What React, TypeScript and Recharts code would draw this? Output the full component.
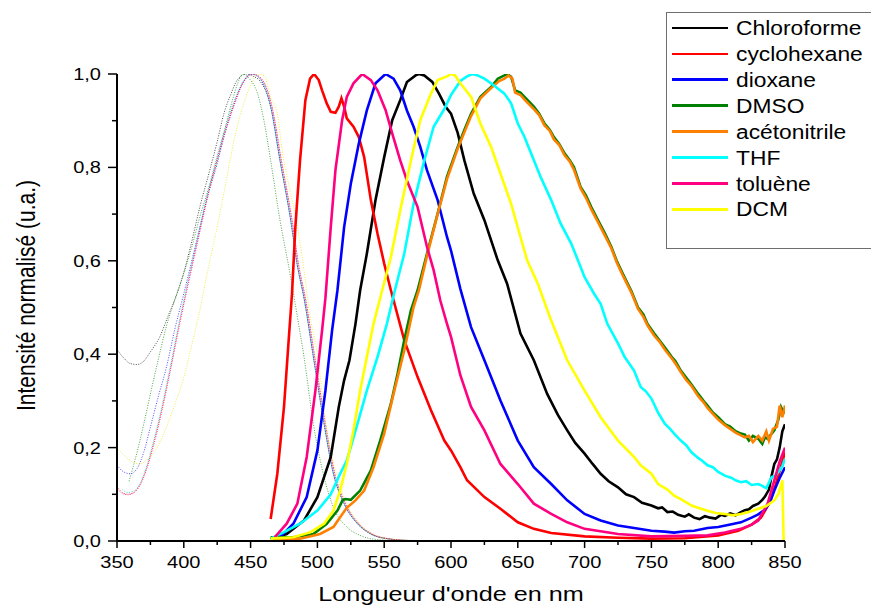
import React from 'react';
import { LineChart, Line, XAxis, YAxis, Label } from 'recharts';

type Pt = [number, number];

const SOLVENTS = ['Chloroforme', 'cyclohexane', 'dioxane', 'DMSO', 'acétonitrile', 'THF', 'toluène', 'DCM'];
const COLORS = ['#000000', '#ff0000', '#0000ff', '#008000', '#ff8000', '#00ffff', '#ff0080', '#ffff00'];

const X_TICKS = [350, 375, 400, 425, 450, 475, 500, 525, 550, 575, 600, 625, 650, 675, 700, 725, 750, 775, 800, 825, 850];
const Y_TICKS = [0, 0.1, 0.2, 0.3, 0.4, 0.5, 0.6, 0.7, 0.8, 0.9, 1.0];

// Absorption spectra (dotted)
const absChloroforme: Pt[] = [[350,0.41],[355,0.392],[360,0.38],[365,0.378],[370,0.385],[375,0.405],[382,0.437],[388,0.48],[395,0.53],[400,0.575],[405,0.63],[412,0.715],[420,0.8],[425,0.855],[430,0.915],[435,0.955],[440,0.987],[447,1.0],[452,0.995],[457,0.985],[465,0.93],[472,0.815],[480,0.687],[485,0.59],[490,0.52],[497,0.394],[505,0.251],[512,0.144],[520,0.08],[530,0.037],[540,0.015],[552,0.005],[570,0.001],[600,0]];
const absDMSO: Pt[] = [[359,0.128],[365,0.19],[370,0.25],[375,0.315],[381,0.39],[387,0.46],[393,0.515],[400,0.573],[406,0.63],[412,0.694],[418,0.75],[425,0.815],[431,0.885],[437,0.95],[441,0.985],[444,1.0],[449,0.99],[455,0.96],[460,0.9],[465,0.815],[472,0.687],[480,0.565],[485,0.48],[490,0.394],[497,0.251],[505,0.137],[512,0.072],[522,0.03],[532,0.012],[545,0.003],[570,0]];
const absDioxane: Pt[] = [[350,0.162],[355,0.148],[360,0.144],[365,0.155],[370,0.19],[375,0.244],[381,0.31],[387,0.372],[393,0.45],[400,0.53],[406,0.6],[412,0.672],[418,0.74],[425,0.808],[431,0.875],[437,0.93],[443,0.975],[451,1.0],[457,0.99],[465,0.93],[472,0.815],[480,0.687],[485,0.59],[490,0.52],[497,0.394],[505,0.251],[512,0.144],[520,0.08],[530,0.037],[540,0.015],[552,0.005],[570,0.001],[600,0]];
const absCyclohexane: Pt[] = [[350,0.117],[354,0.104],[358,0.1],[362,0.103],[367,0.12],[372,0.155],[377,0.205],[383,0.275],[390,0.37],[397,0.47],[403,0.55],[410,0.64],[417,0.73],[424,0.81],[431,0.88],[438,0.94],[444,0.98],[452,1.0],[458,0.99],[466,0.93],[473,0.815],[481,0.687],[486,0.59],[491,0.52],[498,0.394],[506,0.251],[513,0.144],[521,0.08],[531,0.037],[541,0.015],[553,0.005],[570,0.001],[600,0]];
const absTHF: Pt[] = [[354,0.11],[358,0.104],[362,0.106],[367,0.122],[372,0.158],[377,0.21],[383,0.28],[390,0.375],[397,0.475],[403,0.555],[410,0.645],[417,0.735],[424,0.815],[431,0.885],[438,0.945],[444,0.982],[450,1.0],[457,0.99],[465,0.93],[472,0.815],[480,0.687],[485,0.59],[490,0.52],[497,0.394],[505,0.251],[512,0.144],[520,0.08],[530,0.037],[540,0.015],[552,0.005],[570,0.001],[600,0]];
const absToluene: Pt[] = [[350,0.112],[354,0.102],[358,0.099],[362,0.102],[367,0.118],[372,0.152],[377,0.2],[383,0.27],[390,0.365],[397,0.465],[403,0.545],[410,0.635],[417,0.725],[424,0.805],[431,0.875],[438,0.935],[444,0.978],[451,1.0],[458,0.99],[466,0.93],[473,0.815],[481,0.687],[486,0.59],[491,0.52],[498,0.394],[506,0.251],[513,0.144],[521,0.08],[531,0.037],[541,0.015],[553,0.005],[570,0.001],[600,0]];
const absDCM: Pt[] = [[350,0.2],[355,0.185],[360,0.172],[367,0.165],[373,0.175],[380,0.2],[387,0.244],[393,0.29],[400,0.35],[406,0.42],[412,0.494],[418,0.58],[425,0.672],[431,0.76],[437,0.85],[444,0.93],[450,0.975],[455,1.0],[460,0.997],[465,0.95],[470,0.915],[474,0.83],[480,0.744],[484,0.69],[490,0.58],[494,0.49],[500,0.4],[507,0.237],[515,0.137],[522,0.08],[532,0.035],[542,0.014],[555,0.004],[575,0.001],[600,0]];

// Emission spectra (solid)
const emChloroforme: Pt[] = [[465,0.005],[477,0.015],[490,0.044],[500,0.094],[510,0.18],[516,0.287],[520,0.344],[524,0.387],[528.5,0.465],[532,0.537],[537,0.615],[543.5,0.73],[550,0.822],[556,0.901],[562,0.944],[567,0.983],[573.5,0.997],[576,1.0],[580,0.997],[586,0.983],[591,0.958],[596,0.93],[600,0.915],[605,0.874],[610,0.815],[617,0.744],[625,0.687],[635,0.601],[642,0.551],[652,0.444],[662,0.387],[672,0.315],[680,0.27],[687,0.237],[693,0.21],[700,0.187],[706,0.165],[712,0.144],[718,0.128],[725,0.115],[731,0.1],[737,0.094],[743,0.082],[750,0.076],[755,0.07],[758,0.072],[762,0.062],[766,0.063],[770,0.056],[775,0.052],[778,0.057],[782,0.05],[786,0.047],[790,0.053],[794,0.05],[798,0.048],[802,0.056],[805,0.054],[809,0.059],[813,0.055],[817,0.062],[820,0.066],[823,0.068],[826,0.075],[830,0.08],[833,0.088],[835,0.095],[838,0.11],[840,0.14],[842,0.165],[844,0.175],[846,0.2],[848,0.235],[850,0.25]];
const emCyclohexane: Pt[] = [[465,0.047],[470,0.144],[475,0.287],[478.5,0.43],[481,0.53],[483.5,0.672],[487,0.815],[491,0.944],[494.5,0.99],[497.5,1.0],[501,0.987],[503.5,0.965],[507,0.937],[510,0.919],[513.5,0.917],[516,0.93],[518,0.948],[520,0.93],[522,0.905],[527,0.887],[531,0.865],[535,0.822],[540,0.73],[545,0.658],[550,0.594],[555,0.537],[565,0.43],[575,0.351],[585,0.28],[595,0.215],[600,0.194],[607,0.158],[612,0.13],[625,0.094],[637,0.069],[650,0.04],[662,0.026],[675,0.017],[700,0.01],[725,0.007],[750,0.005],[775,0.006],[800,0.012],[815,0.022],[825,0.035],[832,0.05],[838,0.08],[843,0.12],[847,0.16],[850,0.19]];
const emDioxane: Pt[] = [[467,0.0],[472,0.008],[482,0.037],[492,0.094],[500,0.194],[506,0.322],[511,0.451],[515,0.537],[520,0.672],[525,0.765],[531,0.851],[537,0.922],[543.5,0.98],[551,1.0],[557,0.99],[562,0.965],[567,0.922],[572,0.887],[577,0.844],[582,0.794],[590,0.73],[597,0.651],[600,0.622],[607,0.54],[615,0.458],[625,0.387],[637,0.301],[650,0.215],[662,0.158],[675,0.122],[687,0.087],[700,0.058],[712,0.044],[725,0.033],[737,0.028],[750,0.022],[760,0.02],[767,0.018],[775,0.021],[782,0.022],[792,0.028],[800,0.03],[810,0.036],[817,0.04],[825,0.05],[830,0.057],[835,0.067],[839,0.085],[842,0.108],[846,0.135],[850,0.158]];
const emDMSO: Pt[] = [[465,0.008],[482,0.008],[497,0.015],[507,0.037],[515,0.065],[519,0.088],[521,0.09],[525,0.088],[532,0.108],[540,0.151],[547,0.215],[555,0.294],[560,0.358],[565,0.43],[570,0.494],[575,0.537],[582,0.615],[590,0.701],[597,0.78],[605,0.844],[610,0.88],[615,0.915],[622,0.951],[630,0.972],[635,0.99],[640,0.997],[642,1.0],[645,0.994],[648,0.965],[652,0.96],[655,0.951],[662,0.93],[666,0.915],[670,0.894],[674,0.88],[677,0.865],[681,0.85],[685,0.83],[689,0.815],[692,0.801],[697,0.758],[701,0.74],[705,0.715],[710,0.687],[715,0.66],[720,0.63],[724,0.6],[729,0.57],[735,0.535],[740,0.5],[744,0.485],[747,0.465],[752,0.445],[756,0.43],[760,0.415],[765,0.395],[768,0.385],[772,0.365],[776,0.35],[780,0.335],[785,0.315],[789,0.3],[792,0.29],[796,0.275],[800,0.265],[805,0.25],[809,0.245],[813,0.235],[817,0.23],[820,0.228],[823,0.215],[826,0.225],[830,0.219],[833,0.208],[835,0.222],[837,0.219],[840,0.23],[842,0.237],[845,0.26],[847,0.287],[849,0.275],[850,0.28]];
const emAcetonitrile: Pt[] = [[465,0.0],[487,0.005],[502,0.015],[512,0.03],[517,0.051],[522,0.071],[528.5,0.087],[535,0.108],[542,0.158],[550,0.23],[557,0.315],[565,0.408],[572,0.501],[576,0.537],[582,0.61],[590,0.7],[597,0.775],[605,0.84],[610,0.875],[615,0.91],[622,0.948],[630,0.97],[636,0.985],[640,0.99],[643,0.997],[646,0.99],[648,0.96],[652,0.955],[655,0.945],[662,0.925],[666,0.912],[670,0.89],[674,0.878],[677,0.86],[681,0.848],[685,0.826],[689,0.812],[692,0.795],[697,0.755],[701,0.735],[705,0.71],[710,0.683],[715,0.655],[720,0.627],[724,0.597],[729,0.566],[735,0.532],[740,0.497],[744,0.48],[747,0.462],[752,0.44],[756,0.427],[760,0.41],[765,0.392],[768,0.38],[772,0.362],[776,0.345],[780,0.332],[785,0.31],[789,0.297],[792,0.285],[796,0.272],[800,0.26],[805,0.248],[809,0.24],[813,0.232],[817,0.226],[820,0.222],[823,0.225],[826,0.212],[830,0.225],[833,0.215],[836,0.235],[838,0.215],[841,0.24],[844,0.245],[846,0.29],[848,0.265],[850,0.29]];
const emTHF: Pt[] = [[465,0.005],[475,0.019],[487,0.037],[500,0.065],[510,0.1],[517,0.144],[522,0.172],[530,0.251],[537,0.322],[545,0.394],[552,0.465],[558,0.537],[565,0.615],[572,0.722],[580,0.815],[587,0.887],[595,0.925],[600,0.955],[607,0.985],[612,0.995],[616,1.0],[620,0.997],[625,0.99],[632,0.976],[640,0.958],[645,0.937],[650,0.894],[655,0.865],[660,0.83],[667,0.78],[675,0.73],[682,0.68],[690,0.637],[695,0.601],[700,0.565],[707,0.53],[712,0.508],[717,0.465],[725,0.423],[730,0.394],[737,0.365],[742,0.33],[746,0.32],[750,0.305],[755,0.275],[760,0.251],[764,0.24],[767,0.23],[772,0.215],[776,0.205],[780,0.19],[785,0.178],[788,0.172],[792,0.162],[796,0.158],[800,0.148],[805,0.14],[810,0.135],[813,0.13],[817,0.126],[821,0.128],[825,0.12],[830,0.122],[833,0.118],[836,0.113],[838,0.125],[840,0.137],[843,0.14],[845,0.148],[848,0.16],[850,0.176]];
const emToluene: Pt[] = [[468,0.008],[477,0.037],[485,0.08],[492,0.18],[498.5,0.322],[503.5,0.451],[506,0.52],[510,0.672],[513.5,0.794],[518.5,0.901],[522,0.951],[527,0.98],[533.5,1.0],[540,0.987],[545,0.965],[551,0.923],[556,0.873],[562,0.815],[567,0.772],[575,0.715],[582,0.63],[587,0.58],[592,0.515],[597,0.465],[600,0.437],[607,0.355],[615,0.287],[625,0.237],[637,0.165],[650,0.122],[662,0.08],[675,0.058],[687,0.04],[700,0.026],[725,0.015],[750,0.01],[775,0.011],[792,0.012],[805,0.018],[817,0.026],[825,0.035],[830,0.044],[837,0.08],[842,0.13],[846,0.17],[850,0.2]];
const emDCM: Pt[] = [[465,0.005],[482,0.008],[495,0.019],[505,0.037],[512,0.065],[517,0.108],[522,0.165],[527,0.237],[532,0.322],[537,0.394],[542,0.465],[548.5,0.537],[555,0.608],[562,0.708],[570,0.815],[577,0.901],[585,0.958],[590,0.987],[597,0.995],[600,1.0],[603,0.997],[607,0.98],[615,0.951],[622,0.894],[630,0.844],[637,0.787],[645,0.722],[652,0.651],[657,0.601],[665,0.551],[675,0.472],[687,0.387],[700,0.322],[712,0.265],[725,0.215],[737,0.18],[742,0.162],[750,0.144],[755,0.122],[762,0.11],[767,0.097],[773,0.088],[780,0.076],[786,0.07],[792,0.065],[798,0.06],[805,0.058],[811,0.055],[817,0.058],[823,0.062],[830,0.069],[836,0.075],[842,0.087],[845,0.1],[848,0.13],[849,0.0],[850,0.0]];

const EMISSION: Pt[][] = [emChloroforme, emCyclohexane, emDioxane, emDMSO, emAcetonitrile, emTHF, emToluene, emDCM];
const ABSORPTION: { pts: Pt[]; color: string }[] = [
  { pts: absChloroforme, color: '#000000' },
  { pts: absDMSO, color: '#008000' },
  { pts: absDioxane, color: '#0000ff' },
  { pts: absCyclohexane, color: '#ff0000' },
  { pts: absTHF, color: '#00c8c8' },
  { pts: absToluene, color: '#ff0080' },
  { pts: absDCM, color: '#e6e600' },
];

const toData = (pts: Pt[]) => pts.map(([x, y]) => ({ x, y }));

const FONT = '"Liberation Sans", Arial, sans-serif';
const SX = 1.25;

const XTick = (props: any) => {
  const { x, y, payload } = props;
  const v = payload.value;
  const major = v % 50 === 0;
  return (
    <g>
      <line x1={x} y1={y} x2={x} y2={y + (major ? 7 : 4)} stroke="#000" strokeWidth={1.5} />
      {major && (
        <text transform={`translate(${x},${y + 27}) scale(${SX},1)`} textAnchor="middle" fontSize={16} fontFamily={FONT} fill="#000">
          {v}
        </text>
      )}
    </g>
  );
};

const YTick = (props: any) => {
  const { x, y, payload } = props;
  const v = payload.value;
  const major = Math.round(v * 10) % 2 === 0;
  return (
    <g>
      <line x1={x} y1={y} x2={x - (major ? 9 : 5)} y2={y} stroke="#000" strokeWidth={1.5} />
      {major && (
        <text transform={`translate(${x - 16},${y + 6}) scale(${SX},1)`} textAnchor="end" fontSize={16} fontFamily={FONT} fill="#000">
          {v.toFixed(1).replace('.', ',')}
        </text>
      )}
    </g>
  );
};

const XTitle = (props: any) => {
  const { x, y, width } = props.viewBox;
  return (
    <text transform={`translate(${x + width / 2},${y + 60}) scale(1.2,1)`} textAnchor="middle" fontSize={21} fontFamily={FONT} fill="#000">
      Longueur d'onde en nm
    </text>
  );
};

const YTitle = (props: any) => {
  const { y, height } = props.viewBox;
  return (
    <text transform={`translate(18,${y + height / 2 - 12}) scale(1.2,1) rotate(-90)`} textAnchor="middle" dy="0.35em" fontSize={21} fontFamily={FONT} fill="#000">
      Intensité normalisé (u.a.)
    </text>
  );
};

export default function App() {
  return (
    <div style={{ position: 'relative', width: 871, height: 602, background: '#fff' }}>
      <LineChart width={871} height={602} margin={{ top: 66, right: 94, bottom: 9, left: 49 }}>
        <XAxis
          type="number"
          dataKey="x"
          domain={[350, 850]}
          ticks={X_TICKS}
          interval={0}
          allowDataOverflow
          height={60}
          tickLine={false}
          tickSize={0}
          tickMargin={0}
          axisLine={{ stroke: '#000', strokeWidth: 2 }}
          tick={<XTick />}
        >
          <Label content={<XTitle />} />
        </XAxis>
        <YAxis
          type="number"
          dataKey="y"
          domain={[0, 1]}
          ticks={Y_TICKS}
          interval={0}
          allowDataOverflow
          width={60}
          tickLine={false}
          tickSize={0}
          tickMargin={0}
          axisLine={{ stroke: '#000', strokeWidth: 2 }}
          tick={<YTick />}
        >
          <Label content={<YTitle />} />
        </YAxis>
        {ABSORPTION.map((a, i) => (
          <Line
            key={'abs' + i}
            data={toData(a.pts)}
            dataKey="y"
            type="monotone"
            stroke={a.color}
            strokeOpacity={0.7}
            strokeWidth={1}
            strokeDasharray="1 1.5"
            dot={false}
            legendType="none"
            isAnimationActive={false}
          />
        ))}
        {EMISSION.map((pts, i) => (
          <Line
            key={'em' + i}
            data={toData(pts)}
            dataKey="y"
            name={SOLVENTS[i]}
            type="linear"
            stroke={COLORS[i]}
            strokeWidth={2.6}
            dot={false}
            isAnimationActive={false}
          />
        ))}
      </LineChart>
      <div
        style={{
          position: 'absolute',
          left: 658,
          top: 4,
          width: 212,
          height: 237,
          boxSizing: 'border-box',
          border: '1.5px solid #6e6e6e',
          background: '#fff',
          fontFamily: FONT,
        }}
      >
        {SOLVENTS.map((s, i) => (
          <div
            key={s}
            style={{
              position: 'absolute',
              left: 0,
              top: 16.3 + i * 25.95 - 13.5,
              height: 24,
              width: 205,
            }}
          >
            <div style={{ position: 'absolute', left: 5, width: 56, height: 2.5, background: COLORS[i], top: 10.75 }} />
            <span
              style={{
                position: 'absolute',
                left: 68.5,
                top: 0,
                lineHeight: '24px',
                fontSize: 20,
                color: '#000',
                whiteSpace: 'nowrap',
                transform: 'scaleX(1.14)',
                transformOrigin: 'left center',
              }}
            >
              {s}
            </span>
          </div>
        ))}
      </div>
    </div>
  );
}
